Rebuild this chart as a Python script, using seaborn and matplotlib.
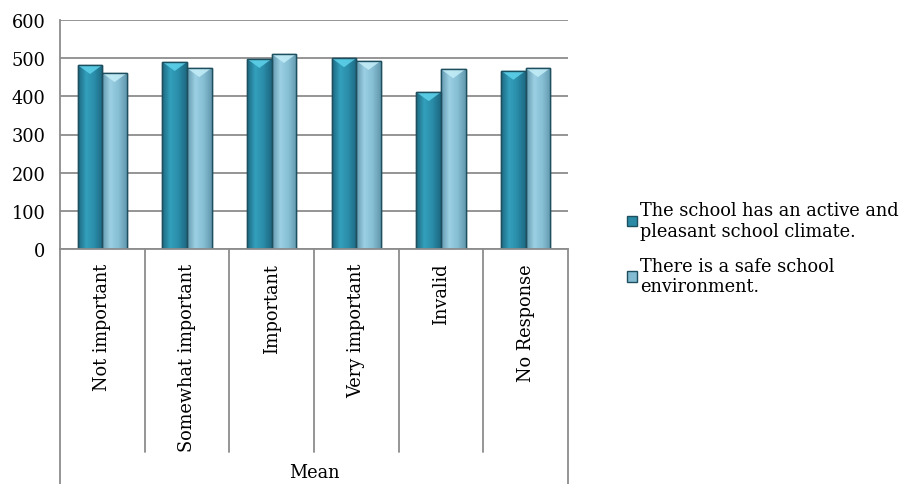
import matplotlib
matplotlib.use("Agg")
import matplotlib.pyplot as plt
import matplotlib.transforms as mtransforms
from matplotlib.colors import LinearSegmentedColormap
from matplotlib.patches import Polygon, Rectangle
import numpy as np
import pandas as pd
import seaborn as sns

# ── Data ──────────────────────────────────────────────────────────────────────
categories = ["Not important", "Somewhat important", "Important",
              "Very important", "Invalid", "No Response"]
series = ["The school has an active and\npleasant school climate.",
          "There is a safe school\nenvironment."]
climate_vals = [482, 490, 498, 500, 411, 467]
safe_vals = [461, 474, 511, 493, 471, 474]
y_ticks = [0, 100, 200, 300, 400, 500, 600]
group_label = "Mean"

df = pd.DataFrame({
    "category": categories * 2,
    "series": [series[0]] * len(categories) + [series[1]] * len(categories),
    "value": climate_vals + safe_vals,
})

sns.set_style("white")
plt.rcParams["font.family"] = ["DejaVu Serif"]
plt.rcParams["text.color"] = "black"
plt.rcParams["xtick.color"] = "black"
plt.rcParams["ytick.color"] = "black"

DARK = "#2B8BA7"
LIGHT = "#82BBD2"
EDGE = "#1E4F5F"
GRID = "#8C8C8C"
FS = 12.8

W, H = 900, 485
fig = plt.figure(figsize=(W / 100, H / 100), dpi=100)
ax = fig.add_axes([60 / W, 1 - 250 / H, 508 / W, 229 / H])

sns.barplot(data=df, x="category", y="value", hue="series",
            palette=[DARK, LIGHT], width=0.58, edgecolor=EDGE,
            linewidth=1.0, saturation=1, ax=ax, legend=True)

ax.set_ylim(0, 600)
ax.set_xlim(-0.5, len(categories) - 0.5)
ax.set_yticks(y_ticks)
ax.set_xlabel("")
ax.set_ylabel("")
ax.yaxis.grid(True, color=GRID, linewidth=1.3)
ax.set_axisbelow(True)
for s in ["top", "right"]:
    ax.spines[s].set_visible(False)
for s in ["left", "bottom"]:
    ax.spines[s].set_color(GRID)
    ax.spines[s].set_linewidth(1.3)

# ── glossy look: horizontal gradient + light chevron on each bar top ─────────
grad_maps = {
    DARK: LinearSegmentedColormap.from_list("d", ["#1D6880", "#33A0BC", "#2A8CA8", "#1D6880"]),
    LIGHT: LinearSegmentedColormap.from_list("l", ["#6399AF", "#9CD0E3", "#86BED4", "#6399AF"]),
}
tops = {DARK: "#5FD3EC", LIGHT: "#C4EEF8"}
ramp = np.linspace(0, 1, 64).reshape(1, -1)
dy = 9 / (229 / 600)  # chevron depth ~9 px in data units
for bar in list(ax.patches):
    h = bar.get_height()
    if h <= 0:
        continue
    fc = matplotlib.colors.to_hex(bar.get_facecolor())
    key = DARK if fc.lower() == DARK.lower() else LIGHT
    x0, w = bar.get_x(), bar.get_width()
    im = ax.imshow(ramp, cmap=grad_maps[key], aspect="auto",
                   extent=(x0, x0 + w, 0, h), zorder=bar.get_zorder() + 0.1)
    im.set_clip_path(bar)
    ax.add_patch(Polygon([(x0, h), (x0 + w, h), (x0 + w / 2, h - dy)],
                         closed=True, facecolor=tops[key], edgecolor="none",
                         alpha=0.85, zorder=bar.get_zorder() + 0.2))
    ax.add_patch(Rectangle((x0, 0), w, h, fill=False, edgecolor=EDGE,
                           linewidth=1.0, zorder=bar.get_zorder() + 0.3))
ax.set_xlim(-0.5, len(categories) - 0.5)
ax.set_ylim(0, 600)

ax.tick_params(axis="y", length=9, color=GRID, width=1.3, labelsize=FS, pad=1.5)
ax.tick_params(axis="x", length=0, labelsize=FS, pad=10)
plt.setp(ax.get_xticklabels(), rotation=90, va="top", ha="center")

# category separators and the "Mean" group box below the axis
trans = mtransforms.blended_transform_factory(ax.transData, ax.transAxes)
n = len(categories)
for i in range(n + 1):
    x = i - 0.5
    bottom = -1.03 if i in (0, n) else -0.886
    ax.plot([x, x], [0, bottom], transform=trans, color=GRID,
            linewidth=1.3, clip_on=False)
ax.text((n - 1) / 2, -0.975, group_label, transform=trans,
        ha="center", va="center", fontsize=FS)

# legend on the right
handles, labels = ax.get_legend_handles_labels()
ax.get_legend().remove()
fig.legend(handles, labels, loc="upper left",
           bbox_to_anchor=(611 / W, 1 - 186 / H), frameon=False,
           fontsize=FS, handlelength=0.55, handleheight=0.55,
           handletextpad=0.2, labelspacing=0.95)

fig.savefig("out.png", dpi=100)
